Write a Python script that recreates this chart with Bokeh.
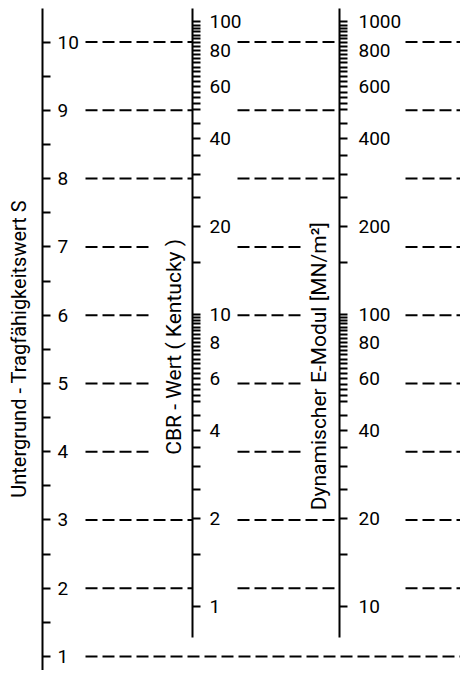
import math
from bokeh.plotting import figure
from bokeh.models import Range1d, LinearAxis, LogScale, FixedTicker, Label
from bokeh.embed import file_html
from bokeh.resources import INLINE

# ---------------- data ----------------
s_values = [1, 2, 3, 4, 5, 6, 7, 8, 9, 10]
s_labels = ["1", "2", "3", "4", "5", "6", "7", "8", "9", "10"]
s_minor = [1.5, 2.5, 3.5, 4.5, 5.5, 6.5, 7.5, 8.5, 9.5]

cbr_major = [1, 2, 4, 6, 8, 10, 20, 40, 60, 80, 100]
cbr_labels = ["1", "2", "4", "6", "8", "10", "20", "40", "60", "80", "100"]
cbr_minor = [1.5, 2.5, 3, 3.5, 4.5, 5, 5.25, 5.5, 5.75, 6.25, 6.5, 6.75, 7, 7.25,
             7.5, 7.75, 8.25, 8.5, 8.75, 9, 9.25, 9.5, 9.75,
             15, 25, 30, 35, 45, 50, 52.5, 55, 57.5, 62.5, 65, 67.5, 70, 72.5,
             75, 77.5, 82.5, 85, 87.5, 90, 92.5, 95, 97.5]

e_major = [10, 20, 40, 60, 80, 100, 200, 400, 600, 800, 1000]
e_labels = ["10", "20", "40", "60", "80", "100", "200", "400", "600", "800", "1000"]
e_minor = [15, 25, 30, 35, 45, 50, 52.5, 55, 57.5, 62.5, 65, 67.5, 70, 72.5,
           75, 77.5, 82.5, 85, 87.5, 90, 92.5, 95, 97.5,
           150, 250, 300, 350, 450, 500, 525, 550, 575, 625, 650, 675, 700, 725,
           750, 775, 825, 850, 875, 900, 925, 950, 975]

guide_rows = [10, 9, 8, 7, 6, 5, 4, 3, 2, 1]     # S values of dashed guide lines
short_rows = [7, 6, 5, 4]                         # rows interrupted by the axis titles

title_s = "Untergrund - Tragfähigkeitswert S"
title_cbr = "CBR - Wert ( Kentucky )"
title_e = "Dynamischer E-Modul [MN/m²]"

# ---------------- layout ----------------
W, H = 460, 670
S_RANGE = (0.795, 10.609)
CBR_RANGE = (0.6026, 118.3)
E_RANGE = (6.026, 1183.0)
X_S, X_CBR, X_E = 42, 192, 339
FONT = "Roboto"

p = figure(width=W, height=H, output_backend="svg", toolbar_location=None,
           x_range=Range1d(0, W), y_range=Range1d(*S_RANGE),
           x_axis_location=None, y_axis_location=None,
           min_border=0, outline_line_color=None, background_fill_color="white",
           border_fill_color="white")
p.xgrid.visible = False
p.ygrid.visible = False
p.extra_y_ranges = {"cbr": Range1d(*CBR_RANGE), "e": Range1d(*E_RANGE)}
p.extra_y_scales = {"cbr": LogScale(), "e": LogScale()}


def style_axis(ax):
    ax.axis_line_width = 2
    ax.axis_line_color = "black"
    ax.major_tick_line_width = 2
    ax.minor_tick_line_width = 2
    ax.major_tick_in = 0
    ax.minor_tick_in = 0
    ax.major_tick_out = 8
    ax.minor_tick_out = 8
    ax.major_label_text_font = FONT
    ax.major_label_text_font_size = "19px"
    ax.major_label_text_color = "black"


ax_s = LinearAxis(ticker=FixedTicker(ticks=s_values, minor_ticks=s_minor),
                  fixed_location=X_S, bounds=(S_RANGE[0], 10.496))
ax_s.major_label_overrides = {v: l for v, l in zip(s_values, s_labels)}
style_axis(ax_s)
ax_s.major_label_standoff = 7
p.add_layout(ax_s, "right")

ax_c = LinearAxis(y_range_name="cbr",
                  ticker=FixedTicker(ticks=cbr_major, minor_ticks=cbr_minor),
                  fixed_location=X_CBR, bounds=(0.783, 111.3))
ax_c.major_label_overrides = {v: l for v, l in zip(cbr_major, cbr_labels)}
style_axis(ax_c)
ax_c.major_label_standoff = 9
p.add_layout(ax_c, "right")

ax_e = LinearAxis(y_range_name="e",
                  ticker=FixedTicker(ticks=e_major, minor_ticks=e_minor),
                  fixed_location=X_E, bounds=(7.83, 1113.0))
ax_e.major_label_overrides = {v: l for v, l in zip(e_major, e_labels)}
style_axis(ax_e)
ax_e.major_label_standoff = 11
p.add_layout(ax_e, "right")

# dashed guide lines
x0s, x1s, ys = [], [], []
for s in guide_rows:
    if s == guide_rows[-1]:
        x0s.append(85); x1s.append(W); ys.append(s)
        continue
    short = s in short_rows
    for a, b in ((85, 150 if short else X_CBR),
                 (237, 300 if short else X_E),
                 (405, W)):
        x0s.append(a); x1s.append(b); ys.append(s)
p.segment(x0=x0s, y0=ys, x1=x1s, y1=ys, line_color="black", line_width=2,
          line_dash="12 5")

for txt, x, y, fs in ((title_s, 18, 5.507, "20px"), (title_cbr, 173, 5.536, "21px"),
                      (title_e, 318, 5.253, "21px")):
    p.add_layout(Label(x=x, y=y, text=txt, angle=math.pi / 2, text_align="center",
                       text_baseline="middle", text_font=FONT, text_font_size=fs,
                       text_color="black"))

open("out.html", "w").write(file_html(p, INLINE))
